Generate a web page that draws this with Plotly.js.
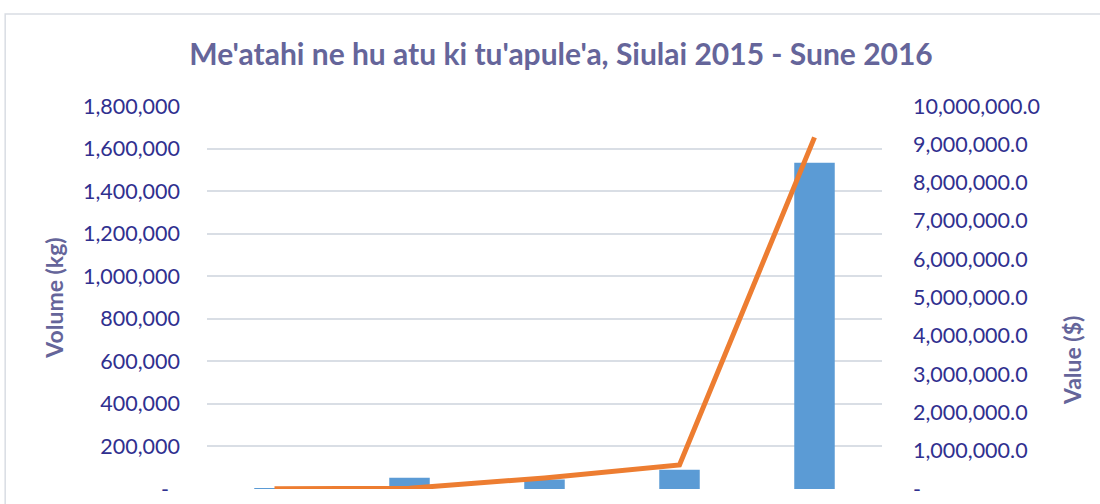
<!DOCTYPE html>
<html>
<head>
<meta charset="utf-8">
<script src="https://cdn.plot.ly/plotly-3.0.1.min.js"></script>
<style>
  html, body { margin: 0; padding: 0; background: #ffffff; }
  #chart { width: 1100px; height: 504px; }
</style>
</head>
<body>
<div id="chart"></div>
<script>
// Categories (x-axis labels are cut off in the reference)
const categories = ["1", "2", "3", "4", "5"];
// Volume (kg) – bars, left axis
const volumeKg = [5000, 53000, 45000, 90000, 1533000];
// Value ($) – line, right axis
const valueUsd = [5000, 20000, 290000, 630000, 9180000];

// Tick labels
const leftTickVals = [0, 200000, 400000, 600000, 800000, 1000000, 1200000, 1400000, 1600000, 1800000];
const leftTickText = ["-\u00a0\u00a0", "200,000", "400,000", "600,000", "800,000", "1,000,000", "1,200,000", "1,400,000", "1,600,000", "1,800,000"];
const rightTickVals = [0, 1000000, 2000000, 3000000, 4000000, 5000000, 6000000, 7000000, 8000000, 9000000, 10000000];
const rightTickText = ["-", "1,000,000.0", "2,000,000.0", "3,000,000.0", "4,000,000.0", "5,000,000.0", "6,000,000.0", "7,000,000.0", "8,000,000.0", "9,000,000.0", "10,000,000.0"];

const titleText = "Me'atahi ne hu atu ki tu'apule'a, Siulai 2015 - Sune 2016";
const leftTitle = "Volume (kg)";
const rightTitle = "Value ($)";

const tickColor = "#30308f";
const titleColor = "#65659a";
const fontFam = "Lato, 'Open Sans', sans-serif";

const traces = [
  {
    type: "bar",
    x: categories,
    y: volumeKg,
    name: leftTitle,
    marker: { color: "#5b9bd5", line: { width: 0 } },
    yaxis: "y",
    hoverinfo: "y"
  },
  {
    type: "scatter",
    mode: "lines",
    x: categories,
    y: valueUsd,
    name: rightTitle,
    line: { color: "#ed7d31", width: 5, shape: "linear" },
    yaxis: "y2",
    hoverinfo: "y"
  }
];

const layout = {
  width: 1100,
  height: 504,
  margin: { l: 207, r: 218, t: 106, b: 15, pad: 0 },
  paper_bgcolor: "#ffffff",
  plot_bgcolor: "#ffffff",
  showlegend: false,
  bargap: 0.7,
  font: { family: fontFam, color: tickColor, size: 21 },
  title: {
    text: "<b>" + titleText + "</b>",
    font: { family: fontFam, size: 30, color: titleColor },
    x: 0.51, xref: "container", xanchor: "center",
    y: 0.891, yref: "container", yanchor: "middle"
  },
  xaxis: {
    type: "category",
    showticklabels: false,
    showgrid: false,
    zeroline: false,
    showline: false,
    ticks: "",
    fixedrange: true
  },
  yaxis: {
    range: [0, 1800000],
    tickvals: leftTickVals,
    ticktext: leftTickText,
    tickfont: { family: fontFam, size: 21.5, color: tickColor },
    ticks: "",
    ticklabelstandoff: 26,
    showgrid: true,
    gridcolor: "#d9dee5",
    gridwidth: 2,
    zeroline: false,
    showline: false,
    automargin: false,
    title: {
      text: "<b>" + leftTitle + "</b>",
      font: { family: fontFam, size: 23, color: titleColor },
      standoff: 12
    }
  },
  yaxis2: {
    overlaying: "y",
    side: "right",
    range: [0, 10000000],
    tickvals: rightTickVals,
    ticktext: rightTickText,
    tickfont: { family: fontFam, size: 21.5, color: tickColor },
    ticks: "",
    ticklabelstandoff: 30,
    showgrid: false,
    zeroline: false,
    showline: false,
    automargin: false
  },
  annotations: [
    {
      text: "<b>" + rightTitle + "</b>",
      xref: "paper", yref: "paper",
      x: 1.2815, y: 0.334,
      xanchor: "center", yanchor: "middle",
      textangle: -90,
      showarrow: false,
      font: { family: fontFam, size: 23, color: titleColor }
    }
  ],
  shapes: [
    {
      type: "rect", xref: "paper", yref: "paper", layer: "below",
      x0: -0.299, x1: 1.5, y0: -0.2, y1: 1.24,
      line: { color: "#d9dde3", width: 1.5 },
      fillcolor: "rgba(0,0,0,0)"
    }
  ]
};

Plotly.newPlot("chart", traces, layout, { displayModeBar: false, staticPlot: true });
</script>
</body>
</html>
